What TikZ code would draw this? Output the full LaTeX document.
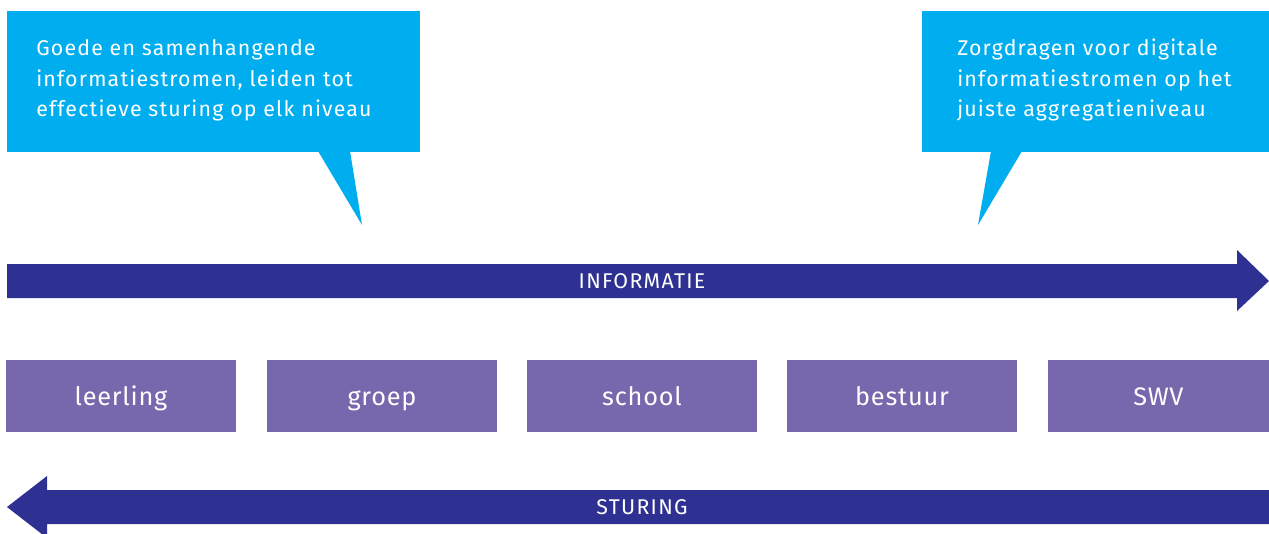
\documentclass[tikz,border=0pt]{standalone}
\usepackage{fontspec}
\setmainfont{Fira Sans}
\newfontfamily\calloutfont{Fira Sans}[LetterSpace=5.5]
\newfontfamily\levelfont{Fira Sans}[LetterSpace=3]
\newfontfamily\arrowfont{Fira Sans}[LetterSpace=6]
\definecolor{callcyan}{HTML}{00AEEF}
\definecolor{arrnavy}{HTML}{2E3192}
\definecolor{lvlpurple}{HTML}{7767AC}
\begin{document}
\begin{tikzpicture}[x=0.75pt,y=-0.75pt,
  callbox/.style={fill=callcyan, draw=none, inner sep=0pt, anchor=north west},
  calltext/.style={text=white, anchor=base west, inner sep=0pt, align=left,
    font=\calloutfont\fontsize{16}{22.9}\selectfont},
  lvlbox/.style={fill=lvlpurple, draw=none, text=white, minimum width=172.5pt,
    minimum height=54pt, inner sep=0pt, text height=16pt, text depth=1.4pt,
    font=\levelfont\fontsize{19}{22}\selectfont},
  arrlabel/.style={text=white, inner sep=0pt, font=\arrowfont\fontsize{16}{18}\selectfont},
  arrfill/.style={fill=arrnavy, draw=none}]
\useasboundingbox (0,0) rectangle (1269,533);
% callouts
\node[callbox, minimum width=309.75pt, minimum height=105.75pt] (c1) at (7,11) {};
\fill[callcyan] (318,151) -- (362,225) -- (350,151) -- cycle;
\node[callbox, minimum width=260.25pt, minimum height=105.75pt] (c2) at (922,11) {};
\fill[callcyan] (991,151) -- (978,225) -- (1022,151) -- cycle;
\node[calltext] (t1) at (36,116.7) {Goede en samenhangende\\informatiestromen, leiden tot\\effectieve sturing op elk niveau};
\node[calltext] (t2) at (957,116.7) {Zorgdragen voor digitale\\informatiestromen op het\\juiste aggregatieniveau};
% INFORMATIE arrow
\fill[arrfill] (7,264) -- (1237,264) -- (1237,250) -- (1269,281) -- (1237,311) -- (1237,298) -- (7,298) -- cycle;
\node[arrlabel] (info) at (642,281) {INFORMATIE};
% levels
\node[lvlbox] (l1) at (121,396) {leerling};
\node[lvlbox] (l2) at (382,396) {groep};
\node[lvlbox] (l3) at (642,396) {school};
\node[lvlbox] (l4) at (902,396) {bestuur};
\node[lvlbox, minimum width=165.75pt] (l5) at (1158.5,396) {SWV};
% STURING arrow
\fill[arrfill] (1269,490) -- (47,490) -- (47,476) -- (7,507) -- (47,538) -- (47,524) -- (1269,524) -- cycle;
\node[arrlabel] (stur) at (642,507) {STURING};
\end{tikzpicture}
\end{document}
